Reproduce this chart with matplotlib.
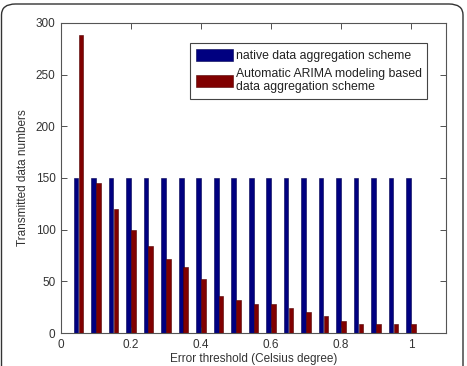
import matplotlib
matplotlib.use("Agg")
import matplotlib.pyplot as plt
import numpy as np
from matplotlib.patches import FancyBboxPatch

plt.rcParams['font.family'] = ['Liberation Sans', 'DejaVu Sans']

thresholds = [0.05, 0.10, 0.15, 0.20, 0.25, 0.30, 0.35, 0.40, 0.45, 0.50,
              0.55, 0.60, 0.65, 0.70, 0.75, 0.80, 0.85, 0.90, 0.95, 1.00]
native = [150] * 20
arima = [288, 145, 120, 100, 84, 72, 64, 52, 36, 32,
         28, 28, 24, 20, 16, 12, 9, 9, 9, 9]
series_labels = ['native data aggregation scheme',
                 'Automatic ARIMA modeling based\ndata aggregation scheme']
xticks = [0, 0.2, 0.4, 0.6, 0.8, 1]
yticks = [0, 50, 100, 150, 200, 250, 300]

W, H = 467, 366
fig = plt.figure(figsize=(W / 100, H / 100), dpi=100)
ax = fig.add_axes([61 / W, 1 - 333 / H, (446 - 61) / W, (333 - 23) / H])

x = np.array(thresholds)
w = 0.0135
ax.bar(x - w / 2, native, width=w, color='#000080', edgecolor='#000050', linewidth=0.4,
       label=series_labels[0])
ax.bar(x + w / 2, arima, width=w, color='#800000', edgecolor='#500000', linewidth=0.4,
       label=series_labels[1])

fs = 8.5
ax.set_xlim(0, 1.1)
ax.set_ylim(0, 300)
ax.set_xticks(xticks)
ax.set_xticklabels(['0', '0.2', '0.4', '0.6', '0.8', '1'])
ax.set_yticks(yticks)
ax.tick_params(direction='in', top=True, right=True, labelsize=fs, length=4,
               width=0.6, colors='#333333', labelcolor='#333333', pad=4)
for s in ax.spines.values():
    s.set_color('#555555')
    s.set_linewidth(0.8)
ax.set_xlabel('Error threshold (Celsius degree)', fontsize=fs, color='#333333', labelpad=2)
ax.set_ylabel('Transmitted data numbers', fontsize=fs, color='#333333', labelpad=5)

leg = ax.legend(loc='upper right', bbox_to_anchor=(0.951, 0.935), fontsize=8.8,
                handlelength=3.0, handleheight=1.15, handletextpad=0.25,
                borderpad=0.45, labelspacing=0.5, fancybox=False, framealpha=1,
                edgecolor='#444444', borderaxespad=0)
leg.get_frame().set_linewidth(0.8)
for t in leg.get_texts():
    t.set_color('#222222')
    t.set_linespacing(1.15)

frame = FancyBboxPatch((1.5 / W, -0.1), (463 - 1.5) / W, 1.1 - 4 / H,
                       boxstyle='round,pad=0,rounding_size=0.03',
                       transform=fig.transFigure, fill=False,
                       edgecolor='#333333', linewidth=1.0, clip_on=False)
fig.patches.append(frame)

fig.savefig('out.png', dpi=100)
